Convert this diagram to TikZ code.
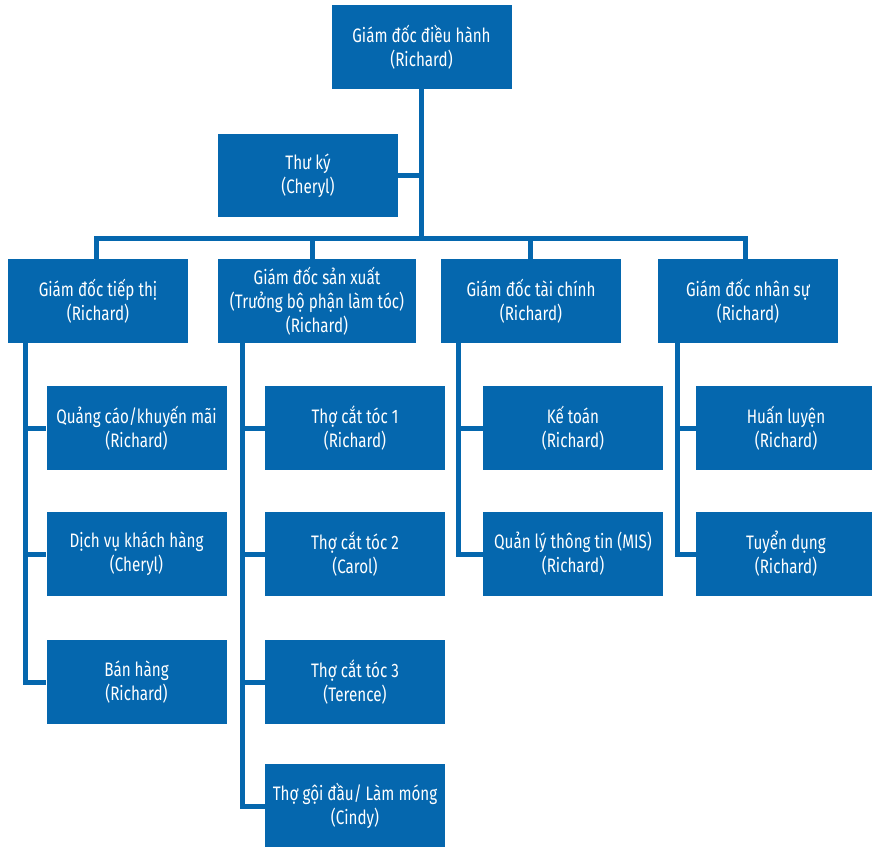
\documentclass[tikz,border=0pt]{standalone}
\usepackage{fontspec}
\setmainfont{Fira Sans}[FakeStretch=0.78]
\definecolor{orgblue}{HTML}{0567AE}
\begin{document}
\begin{tikzpicture}[x=1pt,y=-1pt,
  box/.style={fill=orgblue, text=white, inner sep=0pt, minimum width=180pt, minimum height=84pt,
    align=center, font=\fontsize{19.5}{24}\selectfont},
  conn/.style={draw=orgblue, line width=5pt, line join=miter}]
\useasboundingbox (0,0) rectangle (872,846);
\begin{scope}
\clip (0,0) rectangle (872,846);
\node[box] (ceo) at (421.5,47) {Giám đốc điều hành\\(Richard)};
\node[box, minimum height=83pt] (sec) at (308,175.5) {Thư ký\\(Cheryl)};
\node[box] (mkt) at (98,301) {Giám đốc tiếp thị\\(Richard)};
\node[box, minimum width=198pt] (prod) at (317,301) {Giám đốc sản xuất\\(Trưởng bộ phận làm tóc)\\(Richard)};
\node[box] (fin) at (531,301) {Giám đốc tài chính\\(Richard)};
\node[box] (hr) at (748,301) {Giám đốc nhân sự\\(Richard)};
\node[box] (m1) at (136.5,428) {Quảng cáo/khuyến mãi\\(Richard)};
\node[box] (m2) at (136.5,554) {Dịch vụ khách hàng\\(Cheryl)};
\node[box] (m3) at (136.5,682) {Bán hàng\\(Richard)};
\node[box] (p1) at (355,428) {Thợ cắt tóc 1\\(Richard)};
\node[box] (p2) at (355,554) {Thợ cắt tóc 2\\(Carol)};
\node[box] (p3) at (355,682) {Thợ cắt tóc 3\\(Terence)};
\node[box] (p4) at (355,806) {Thợ gội đầu/ Làm móng\\(Cindy)};
\node[box] (f1) at (573,428) {Kế toán\\(Richard)};
\node[box] (f2) at (573,554) {Quản lý thông tin (MIS)\\(Richard)};
\node[box] (h1) at (786,428) {Huấn luyện\\(Richard)};
\node[box] (h2) at (786,554) {Tuyển dụng\\(Richard)};
\coordinate (bus) at (421.5,238);
\draw[conn] (ceo.south) -- (bus);
\draw[conn] ([xshift=-2pt]mkt.north) |- (bus) -| ([xshift=-3pt]hr.north);
\draw[conn] ([xshift=-5pt]prod.north) -- ([xshift=-5pt]prod.north |- bus);
\draw[conn] ([xshift=-1pt]fin.north) -- ([xshift=-1pt]fin.north |- bus);
\draw[conn] (sec.east) -- (sec.east -| ceo.south);
% marketing
\draw[conn] ([xshift=18pt]mkt.south west) |- (m3.west);
\draw[conn] ([xshift=18pt]mkt.south west |- m1.west) -- (m1.west);
\draw[conn] ([xshift=18pt]mkt.south west |- m2.west) -- (m2.west);
% production
\draw[conn] ([xshift=25pt]prod.south west) |- (p4.west);
\draw[conn] ([xshift=25pt]prod.south west |- p1.west) -- (p1.west);
\draw[conn] ([xshift=25pt]prod.south west |- p2.west) -- (p2.west);
\draw[conn] ([xshift=25pt]prod.south west |- p3.west) -- (p3.west);
% finance
\draw[conn] ([xshift=18pt]fin.south west) |- (f2.west);
\draw[conn] ([xshift=18pt]fin.south west |- f1.west) -- (f1.west);
% hr
\draw[conn] ([xshift=20pt]hr.south west) |- (h2.west);
\draw[conn] ([xshift=20pt]hr.south west |- h1.west) -- (h1.west);
\end{scope}
\end{tikzpicture}
\end{document}
